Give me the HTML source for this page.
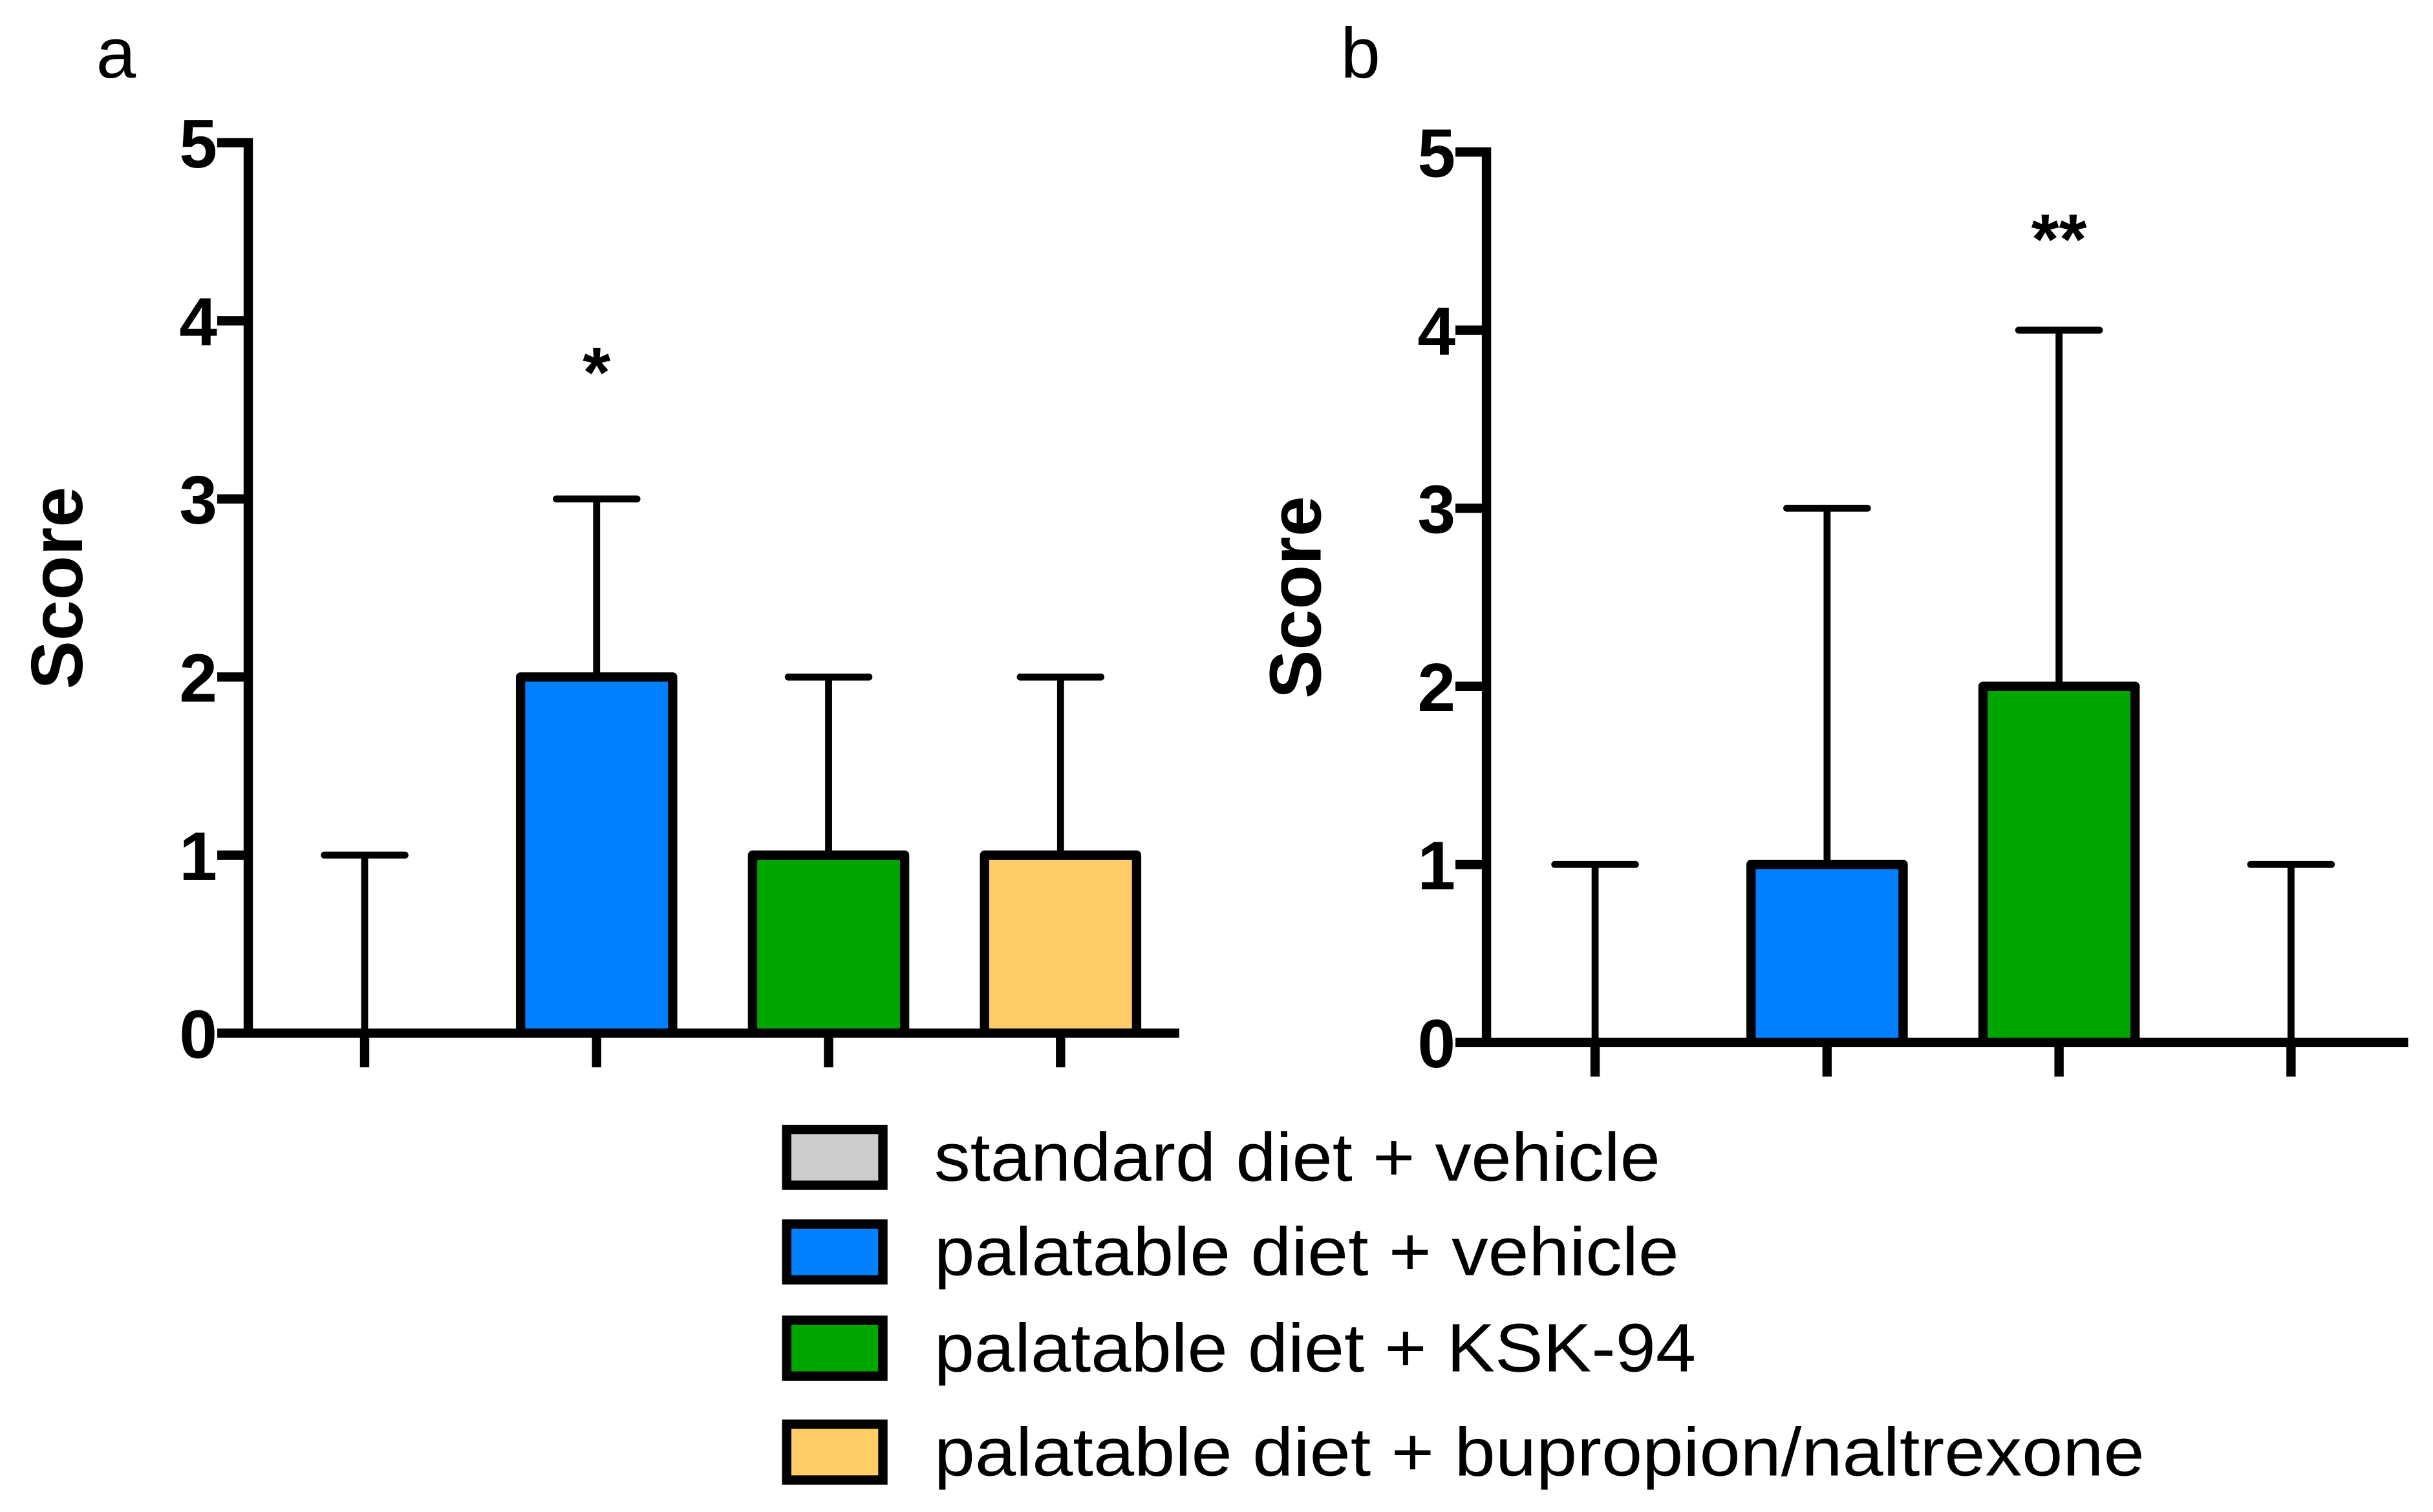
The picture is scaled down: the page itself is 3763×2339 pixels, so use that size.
<!DOCTYPE html>
<html><head><meta charset="utf-8"><style>
html,body{margin:0;padding:0;background:#fff;}
svg{display:block;}
text{font-family:"Liberation Sans",Arial,sans-serif;}
</style></head><body>
<svg id="fig" width="3763" height="2339" viewBox="0 0 1568 974.6" xmlns="http://www.w3.org/2000/svg">
<rect width="1568" height="974.6" fill="#fff"/>
<g id="pa"></g>
<g id="pb"></g>
<g id="legend"></g>
</svg>
<script>
const categories = ["standard diet + vehicle","palatable diet + vehicle","palatable diet + KSK-94","palatable diet + bupropion/naltrexone"];
const colors = ["#cccccc","#0080ff","#00a600","#ffcc66"];
const yTicks = [0,1,2,3,4,5];
const meansA = [0,2,1,1];
const upperA = [1,3,2,2];
const starsA = ["","*","",""];
const meansB = [0,1,2,0];
const upperB = [1,3,4,1];
const starsB = ["","","**",""];
const starYA = [0,3.8,0,0];
const starYB = [0,0,4.6,0];

const NS="http://www.w3.org/2000/svg";
function mk(parent,tag,attrs){const e=document.createElementNS(NS,tag);for(const k in attrs)e.setAttribute(k,attrs[k]);parent.appendChild(e);return e;}

function panel(gid,letter,letterX,ax,y0,xEnd,centers0,means,upper,stars,starY){
  const g=document.getElementById(gid);
  const unit=114.8;
  const y=v=>y0-v*unit;
  const step=149.5;
  const xc=i=>centers0+i*step;
  const lt=mk(g,'text',{x:letterX,y:50,'font-size':46});
  
  
  lt.textContent=letter;
  const yt=mk(g,'text',{transform:`translate(${ax-107},${y(2.5)}) rotate(-90)`,'text-anchor':'middle','font-size':47,'font-weight':'bold'});
  
  
  yt.textContent='Score';
  means.forEach((m,i)=>{
    const x=xc(i);
    const eb=mk(g,'path',{d:`M${x},${y(m)}V${y(upper[i])}M${x-26},${y(upper[i])}H${x+26}`,stroke:'#000','stroke-width':4.5,'stroke-linecap':'round',fill:'none'});
    
    
    if(m>0){
      const r=mk(g,'rect',{x:x-49,y:y(m),width:98,height:y(0)-y(m),fill:colors[i],stroke:'#000','stroke-width':6,'stroke-linejoin':'round'});
      
      
    }
    if(stars[i]){
      const s=mk(g,'text',{x:x,y:y(starY[i])+26,'text-anchor':'middle','font-size':46,'font-weight':'bold'});
      
      
      s.textContent=stars[i];
    }
    const xt=mk(g,'line',{x1:x,x2:x,y1:y0,y2:y0+22,stroke:'#000','stroke-width':6});
    
    
  });
  const axes=mk(g,'path',{d:`M${ax},${y(5)-3}V${y0}H${xEnd}`,stroke:'#000','stroke-width':6,fill:'none'});
  
  
  yTicks.forEach(t=>{
    const tk=mk(g,'line',{x1:ax-20,x2:ax,y1:y(t),y2:y(t),stroke:'#000','stroke-width':6});
    
    
    const tl=mk(g,'text',{x:ax-20,y:y(t)+16,'text-anchor':'end','font-size':44,'font-weight':'bold'});
    
    
    tl.textContent=t;
  });
}
panel('pa','a',62,160,666,760,235,meansA,upperA,starsA,starYA);
panel('pb','b',864,958,672,1552,1028,meansB,upperB,starsB,starYB);

const lg=document.getElementById('legend');
const rowsY=[746,807,869,936];
const textEnds=[1070,1082,1093,1382];
categories.forEach((c,i)=>{
  const r=mk(lg,'rect',{x:507,y:rowsY[i]-18,width:62,height:36,fill:colors[i],stroke:'#000','stroke-width':6});
  
  
  const t=mk(lg,'text',{x:602,y:rowsY[i]+15,'font-size':44,textLength:textEnds[i]-602,lengthAdjust:'spacingAndGlyphs'});
  
  
  t.textContent=c;
});
</script>
</body></html>
